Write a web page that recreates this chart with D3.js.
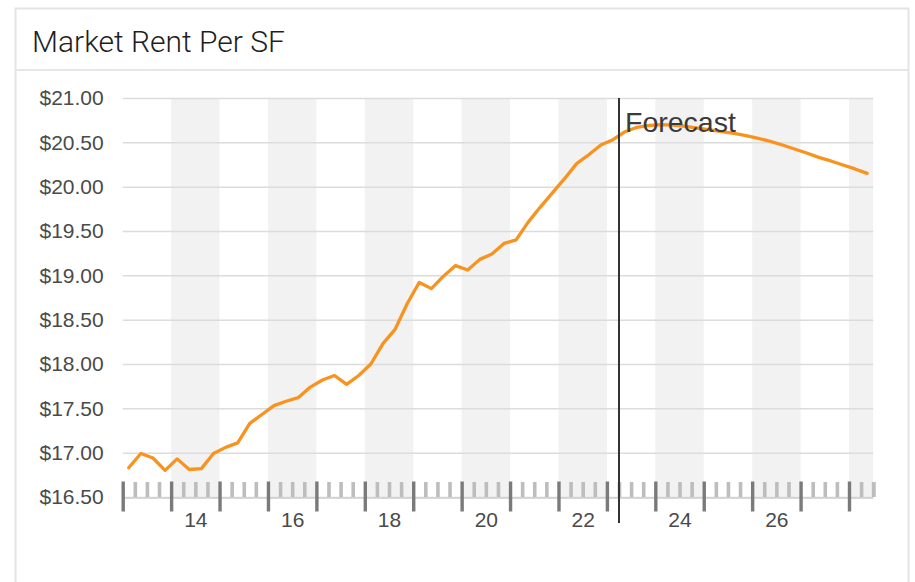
<!DOCTYPE html>
<html>
<head>
<meta charset="utf-8">
<script src="https://cdn.jsdelivr.net/npm/d3@7"></script>
<style>
  html, body { margin: 0; padding: 0; background: #fff; }
  svg { display: block; }
  .axis-label text { font-family: "Liberation Sans", Arial, Helvetica, sans-serif; font-size: 21px; fill: #4a4a4a; }
</style>
</head>
<body>
<svg id="chart" width="915" height="582"></svg>
<script>
// Market rent per square foot, quarterly, 2013 Q1 – 2028 Q2
const years = [2013, 2014, 2015, 2016, 2017, 2018, 2019, 2020, 2021, 2022, 2023, 2024, 2025, 2026, 2027, 2028];
const quarterLabels = ["Q1", "Q2", "Q3", "Q4"];
const rent = [
  16.83, 16.99, 16.94, 16.80,   // 2013
  16.93, 16.81, 16.82, 16.99,   // 2014
  17.06, 17.11, 17.33, 17.43,   // 2015
  17.53, 17.58, 17.62, 17.74,   // 2016
  17.82, 17.87, 17.77, 17.87,   // 2017
  18.00, 18.23, 18.39, 18.68,   // 2018
  18.92, 18.85, 18.99, 19.11,   // 2019
  19.06, 19.18, 19.24, 19.36,   // 2020
  19.40, 19.60, 19.77, 19.93,   // 2021
  20.09, 20.26, 20.36, 20.47,   // 2022
  20.53, 20.62, 20.67, 20.69,   // 2023
  20.70, 20.695, 20.68, 20.66,  // 2024
  20.64, 20.62, 20.60, 20.575,  // 2025
  20.545, 20.51, 20.47, 20.425, // 2026
  20.38, 20.33, 20.29, 20.245,  // 2027
  20.20, 20.15                  // 2028
];
const yTicks = [16.5, 17, 17.5, 18, 18.5, 19, 19.5, 20, 20.5, 21];
const yearTickLabels = ["14", "16", "18", "20", "22", "24", "26"];
const labelledYears = [2014, 2016, 2018, 2020, 2022, 2024, 2026];
const shadedYears = [2014, 2016, 2018, 2020, 2022, 2024, 2026, 2028];
const forecastStart = { year: 2023, quarter: "Q2" };
const title = "Market Rent Per SF";
const forecastLabel = "Forecast";

// quarterly periods; each point sits at the middle of its quarter
const periods = [];
years.forEach(yr => quarterLabels.forEach((q, i) => periods.push({ year: yr, quarter: q, start: yr + i / 4 })));
const series = rent.map((v, i) => ({ t: periods[i].start + 0.125, v }));
const xEnd = periods[rent.length - 1].start + 0.25;

const svg = d3.select("#chart");
const plotLeft = 122.7, plotRight = 873.2, plotTop = 98, plotBottom = 497;

const x = d3.scaleLinear().domain([years[0], xEnd]).range([plotLeft, plotRight]);
const y = d3.scaleLinear().domain([yTicks[0], yTicks[yTicks.length - 1]]).range([plotBottom, plotTop]);

// card frame and header
svg.append("rect")
  .attr("x", 15.5).attr("y", 8.5).attr("width", 893).attr("height", 620)
  .attr("fill", "#fff").attr("stroke", "#e4e4e4").attr("stroke-width", 2);
svg.append("line")
  .attr("x1", 15.5).attr("x2", 908.5).attr("y1", 70).attr("y2", 70)
  .attr("stroke", "#e6e6e6").attr("stroke-width", 2);
svg.append("text")
  .attr("x", 32).attr("y", 51.5)
  .attr("font-family", "Roboto, 'Liberation Sans', Arial, sans-serif")
  .attr("font-weight", 300)
  .attr("font-size", 30)
  .attr("fill", "#1e1e1e")
  .text(title);

// alternating year bands
svg.append("g").selectAll("rect")
  .data(shadedYears)
  .join("rect")
  .attr("x", d => x(d))
  .attr("width", d => x(Math.min(d + 1, xEnd)) - x(d))
  .attr("y", y(yTicks[yTicks.length - 1]))
  .attr("height", plotBottom + 1.5 - y(yTicks[yTicks.length - 1]))
  .attr("fill", "#f2f2f2");

// horizontal grid with dollar labels
const yAxis = svg.append("g")
  .attr("class", "axis-label")
  .attr("transform", `translate(${plotLeft},0)`)
  .call(d3.axisLeft(y).tickValues(yTicks).tickFormat(d3.format("$.2f"))
    .tickSize(-(plotRight - plotLeft)).tickPadding(19));
yAxis.select(".domain").remove();
yAxis.selectAll(".tick line").attr("stroke", "#dcdcdc").attr("stroke-width", 1.5);

// x baseline
svg.append("line")
  .attr("x1", plotLeft).attr("x2", plotRight).attr("y1", plotBottom + 1).attr("y2", plotBottom + 1)
  .attr("stroke", "#cfcfcf").attr("stroke-width", 1.5);

// quarter ticks
const minorAxis = svg.append("g")
  .attr("transform", "translate(0,482)")
  .call(d3.axisBottom(x)
    .tickValues(periods.filter(p => p.start <= xEnd && p.quarter !== "Q1").map(p => p.start).concat([xEnd]))
    .tickSize(15).tickFormat(""));
minorAxis.select(".domain").remove();
minorAxis.selectAll(".tick line").attr("stroke", "#bdbdbd").attr("stroke-width", 3.6);

// year ticks
const majorAxis = svg.append("g")
  .attr("transform", "translate(0,481.5)")
  .call(d3.axisBottom(x).tickValues(years).tickSize(30).tickFormat(""));
majorAxis.select(".domain").remove();
majorAxis.selectAll(".tick line").attr("stroke", "#7a7a7a").attr("stroke-width", 3.4);

// year labels centred in their year
const labelAxis = svg.append("g")
  .attr("class", "axis-label")
  .attr("transform", `translate(0,${plotBottom + 1})`)
  .call(d3.axisBottom(x).tickValues(labelledYears.map(d => d + 0.5))
    .tickSize(0).tickPadding(14.5)
    .tickFormat((d, i) => yearTickLabels[i]));
labelAxis.select(".domain").remove();

// rent line
svg.append("path")
  .datum(series)
  .attr("fill", "none")
  .attr("stroke", "#f7931e")
  .attr("stroke-width", 3.3)
  .attr("stroke-linejoin", "round")
  .attr("stroke-linecap", "round")
  .attr("d", d3.line().x(d => x(d.t)).y(d => y(d.v)));

// forecast marker
const fx = x(forecastStart.year + quarterLabels.indexOf(forecastStart.quarter) / 4);
svg.append("line")
  .attr("x1", fx).attr("x2", fx).attr("y1", plotTop).attr("y2", 523)
  .attr("stroke", "#333").attr("stroke-width", 2);
svg.append("text")
  .attr("x", fx + 6).attr("y", 131.5)
  .attr("font-family", "'Liberation Sans', Arial, Helvetica, sans-serif")
  .attr("font-size", 28.5)
  .attr("fill", "#3a3a3a")
  .text(forecastLabel);
</script>
</body>
</html>
